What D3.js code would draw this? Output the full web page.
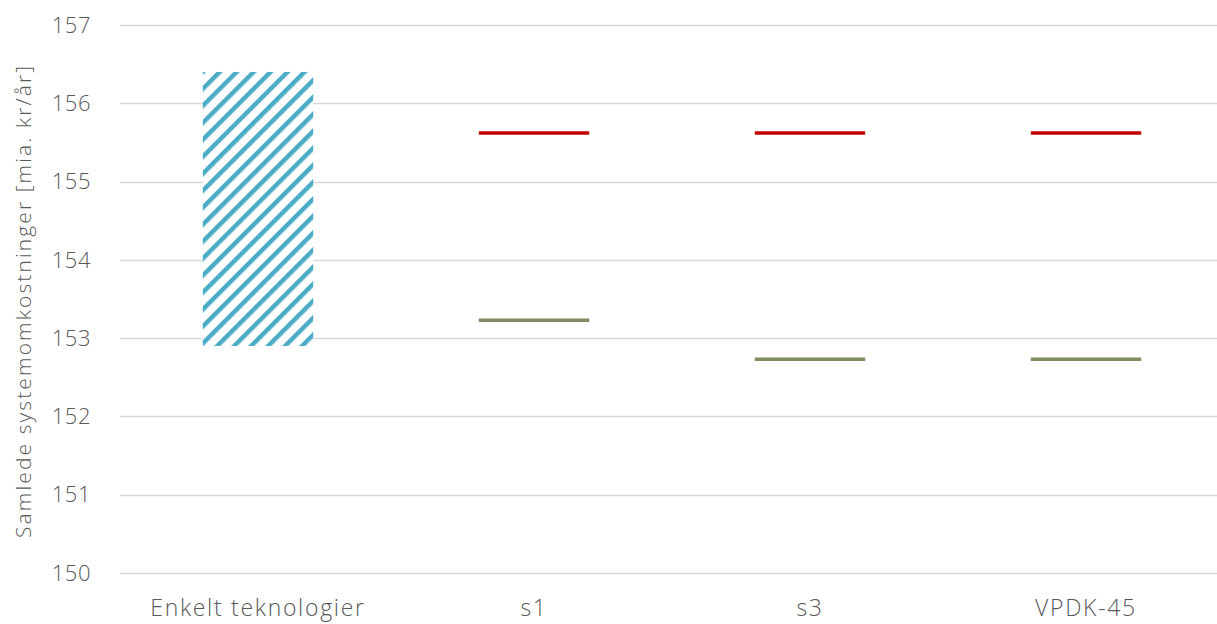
<!DOCTYPE html>
<html>
<head>
<meta charset="utf-8">
<script src="https://cdn.jsdelivr.net/npm/d3@7"></script>
<style>
  html, body { margin: 0; padding: 0; background: #fff; }
  svg text { font-family: "Open Sans", "Lato", sans-serif; font-weight: 300; fill: #595959; }
</style>
</head>
<body>
<div id="chart"></div>
<script>
// categories along the x axis
var categories = ["Enkelt teknologier", "s1", "s3", "VPDK-45"];
// hatched range (floating bar) for the single technologies
var rangeLow = [152.9, null, null, null];
var rangeHigh = [156.4, null, null, null];
// upper marker (red) and lower marker (green)
var upperValues = [null, 155.62, 155.62, 155.62];
var lowerValues = [null, 153.23, 152.73, 152.73];
var yTicks = [150, 151, 152, 153, 154, 155, 156, 157];

var width = 1217, height = 624;
var margin = { top: 25, right: -7, bottom: 50, left: 120 };

var svg = d3.select("#chart").append("svg")
  .attr("width", width)
  .attr("height", height);

var defs = svg.append("defs");
var pat = defs.append("pattern")
  .attr("id", "hatch")
  .attr("patternUnits", "userSpaceOnUse")
  .attr("width", 12)
  .attr("height", 12)
  .attr("patternTransform", "rotate(-45)");
pat.append("rect").attr("width", 12).attr("height", 12).attr("fill", "#fff");
pat.append("rect").attr("x", 0).attr("y", 0).attr("width", 12).attr("height", 4.5).attr("fill", "#4BACC6");

var x = d3.scaleBand()
  .domain(categories)
  .range([margin.left, width - margin.right])
  .paddingInner(0.6)
  .paddingOuter(0.3);

var y = d3.scaleLinear()
  .domain([150, 157])
  .range([height - margin.bottom - 1, margin.top]);

// gridlines
svg.append("g")
  .selectAll("line")
  .data(yTicks)
  .enter().append("line")
  .attr("x1", margin.left)
  .attr("x2", width)
  .attr("y1", function (d) { return Math.round(y(d)) + 0.5; })
  .attr("y2", function (d) { return Math.round(y(d)) + 0.5; })
  .attr("stroke", "#d9d9d9")
  .attr("stroke-width", 1.5);

// y tick labels
svg.append("g")
  .selectAll("text")
  .data(yTicks)
  .enter().append("text")
  .attr("x", 91)
  .attr("y", function (d) { return y(d); })
  .attr("dy", "0.35em")
  .attr("text-anchor", "end")
  .style("font-size", "22px")
  .style("letter-spacing", "0.5px")
  .text(function (d) { return d; });

// y axis title
svg.append("text")
  .attr("transform", "translate(31," + (y(153.5) + 2) + ") rotate(-90)")
  .attr("text-anchor", "middle")
  .style("font-size", "21px")
  .style("letter-spacing", "2.1px")
  .text("Samlede systemomkostninger [mia. kr/år]");

// category labels
svg.append("g")
  .selectAll("text")
  .data(categories)
  .enter().append("text")
  .attr("x", function (d) { return x(d) + x.bandwidth() / 2; })
  .attr("y", 616)
  .attr("text-anchor", "middle")
  .style("font-size", "23px")
  .style("letter-spacing", "1.7px")
  .text(function (d) { return d; });

// hatched range bar
svg.append("g")
  .selectAll("rect")
  .data(categories.filter(function (d, i) { return rangeLow[i] != null; }))
  .enter().append("rect")
  .attr("x", function (d) { return x(d); })
  .attr("width", x.bandwidth())
  .attr("y", function (d) { return y(rangeHigh[categories.indexOf(d)]); })
  .attr("height", function (d) {
    var i = categories.indexOf(d);
    return y(rangeLow[i]) - y(rangeHigh[i]);
  })
  .attr("fill", "url(#hatch)");

function drawMarkers(values, color) {
  svg.append("g")
    .selectAll("line")
    .data(categories.filter(function (d, i) { return values[i] != null; }))
    .enter().append("line")
    .attr("x1", function (d) { return x(d); })
    .attr("x2", function (d) { return x(d) + x.bandwidth(); })
    .attr("y1", function (d) { return y(values[categories.indexOf(d)]); })
    .attr("y2", function (d) { return y(values[categories.indexOf(d)]); })
    .attr("stroke", color)
    .attr("stroke-width", 3.5);
}

drawMarkers(upperValues, "#C00000");
drawMarkers(lowerValues, "#7F8C5F");
</script>
</body>
</html>
